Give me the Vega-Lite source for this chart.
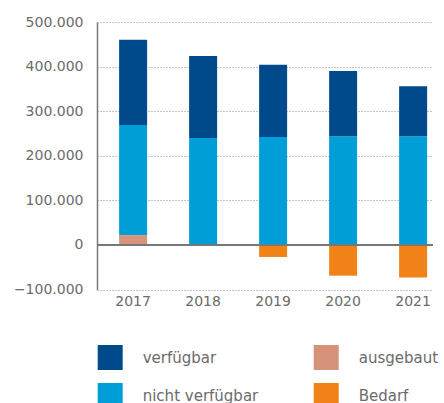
{
  "$schema": "https://vega.github.io/schema/vega-lite/v6.json",
  "autosize": {"type": "none"},
  "padding": {"left": 97, "top": 22, "right": 11, "bottom": 113.5},
  "width": 336,
  "height": 267.5,
  "config": {
    "view": {"stroke": null},
    "font": "DejaVu Sans"
  },
  "layer": [
    {
      "data": {
        "values": [
          {"year": "2017", "category": "ausgebaut", "value": 22000},
          {"year": "2017", "category": "nicht verfügbar", "value": 247000},
          {"year": "2017", "category": "verfügbar", "value": 191000},
          {"year": "2018", "category": "nicht verfügbar", "value": 240000},
          {"year": "2018", "category": "verfügbar", "value": 184000},
          {"year": "2019", "category": "nicht verfügbar", "value": 242000},
          {"year": "2019", "category": "verfügbar", "value": 162000},
          {"year": "2019", "category": "Bedarf", "value": -27000},
          {"year": "2020", "category": "nicht verfügbar", "value": 244000},
          {"year": "2020", "category": "verfügbar", "value": 146000},
          {"year": "2020", "category": "Bedarf", "value": -69000},
          {"year": "2021", "category": "nicht verfügbar", "value": 244000},
          {"year": "2021", "category": "verfügbar", "value": 112000},
          {"year": "2021", "category": "Bedarf", "value": -73000}
        ]
      },
      "transform": [
        {"calculate": "indexof(['ausgebaut','nicht verfügbar','verfügbar','Bedarf'], datum.category)", "as": "ord"}
      ],
      "mark": {"type": "bar"},
      "encoding": {
        "x": {
          "field": "year",
          "type": "nominal",
          "scale": {"paddingInner": 0.6, "paddingOuter": 0.2, "align": 0.79},
          "axis": {
            "title": null,
            "domain": false,
            "ticks": false,
            "grid": false,
            "labelAngle": 0,
            "labelFontSize": 14,
            "labelColor": "#6b6b6b",
            "labelPadding": 5
          }
        },
        "y": {
          "field": "value",
          "type": "quantitative",
          "stack": "zero",
          "scale": {"domain": [-100000, 500000], "nice": false},
          "axis": {
            "title": null,
            "values": [-100000, 0, 100000, 200000, 300000, 400000, 500000],
            "labelExpr": "replace(format(datum.value, ','), /,/g, '.')",
            "ticks": false,
            "domain": true,
            "domainColor": "#777777",
            "domainWidth": 1.5,
            "grid": true,
            "gridColor": "#8a8a8a",
            "gridDash": [1, 2],
            "gridWidth": 1,
            "labelFontSize": 14,
            "labelColor": "#6b6b6b",
            "labelPadding": 14
          }
        },
        "color": {
          "field": "category",
          "type": "nominal",
          "scale": {
            "domain": ["verfügbar", "nicht verfügbar", "ausgebaut", "Bedarf"],
            "range": ["#004a8b", "#009ed6", "#d6937a", "#f08218"]
          },
          "legend": {
            "title": null,
            "orient": "none",
            "legendX": 0.7,
            "legendY": 323,
            "columns": 2,
            "columnPadding": 55,
            "rowPadding": 13,
            "symbolType": "square",
            "symbolSize": 625,
            "symbolStrokeWidth": 0,
            "labelOffset": 20,
            "labelFontSize": 15,
            "labelColor": "#6b6b6b",
            "labelLimit": 300
          }
        },
        "order": {"field": "ord", "type": "quantitative"}
      }
    },
    {
      "data": {"values": [{"y": 0}]},
      "mark": {"type": "rule", "color": "#777777", "strokeWidth": 2},
      "encoding": {
        "y": {"field": "y", "type": "quantitative"}
      }
    }
  ]
}
